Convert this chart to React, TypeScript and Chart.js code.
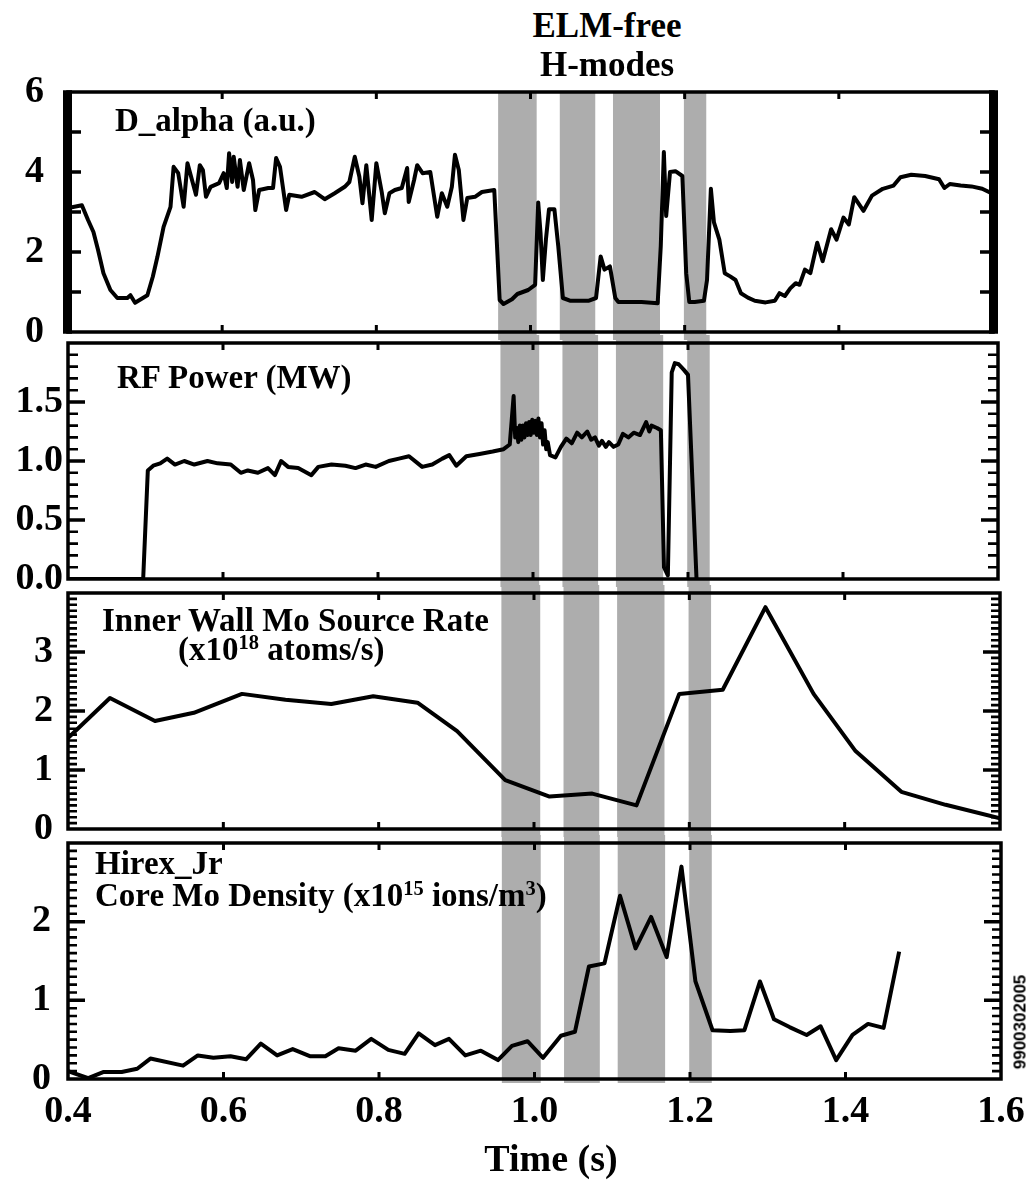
import React, { useEffect, useRef } from 'react';
import { Chart, registerables } from 'chart.js';

Chart.register(...registerables);

// ---------------- data ----------------
const xTickValues = [0.4, 0.6, 0.8, 1.0, 1.2, 1.4, 1.6];

// ELM-free H-mode windows (s)
const bandStart = [0.958, 1.038, 1.107, 1.199];
const bandEnd = [1.008, 1.084, 1.168, 1.228];

// Panel 1: D_alpha (a.u.)
const dAlphaTime = [
  0.400, 0.418, 0.426, 0.433, 0.439, 0.446, 0.455, 0.464, 0.477, 0.481, 0.487, 0.503, 0.510, 0.516, 0.524,
  0.533, 0.537, 0.543, 0.550, 0.555, 0.562, 0.566, 0.571, 0.575, 0.579, 0.585, 0.596, 0.602, 0.606, 0.609,
  0.613, 0.615, 0.620, 0.623, 0.628, 0.635, 0.640, 0.643, 0.648, 0.660, 0.666, 0.670, 0.675, 0.683, 0.687,
  0.703, 0.720, 0.733, 0.746, 0.759, 0.765, 0.772, 0.778, 0.782, 0.787, 0.794, 0.800, 0.807, 0.811, 0.817,
  0.824, 0.833, 0.840, 0.842, 0.849, 0.853, 0.860, 0.870, 0.879, 0.885, 0.892, 0.898, 0.902, 0.907, 0.913,
  0.918, 0.928, 0.937, 0.953, 0.960, 0.965, 0.976, 0.983, 0.997, 1.006, 1.010, 1.013, 1.016, 1.020, 1.024,
  1.031, 1.036, 1.042, 1.052, 1.075, 1.085, 1.091, 1.096, 1.103, 1.110, 1.114, 1.144, 1.165, 1.169, 1.173,
  1.176, 1.181, 1.188, 1.197, 1.202, 1.206, 1.213, 1.225, 1.229, 1.234, 1.238, 1.245, 1.252, 1.259, 1.266,
  1.273, 1.282, 1.291, 1.305, 1.317, 1.323, 1.330, 1.337, 1.344, 1.349, 1.356, 1.363, 1.372, 1.379, 1.390,
  1.397, 1.406, 1.413, 1.420, 1.432, 1.443, 1.457, 1.471, 1.480, 1.494, 1.512, 1.530, 1.537, 1.544, 1.558,
  1.572, 1.586, 1.600,
];
const dAlphaValue = [
  3.10, 3.17, 2.80, 2.50, 2.05, 1.47, 1.05, 0.85, 0.85, 0.92, 0.73, 0.92, 1.38, 1.88, 2.63,
  3.13, 4.13, 3.97, 3.13, 4.22, 3.72, 3.43, 4.17, 4.05, 3.38, 3.63, 3.72, 3.97, 3.60, 4.47,
  3.75, 4.38, 3.63, 4.30, 3.55, 4.22, 3.80, 3.05, 3.55, 3.60, 3.60, 4.35, 4.13, 3.05, 3.43,
  3.38, 3.50, 3.32, 3.47, 3.63, 3.75, 4.38, 3.88, 3.22, 4.17, 2.80, 4.22, 3.50, 2.97, 3.47,
  3.55, 3.60, 4.10, 3.25, 3.80, 4.17, 3.97, 4.00, 2.88, 3.47, 3.13, 3.63, 4.43, 4.05, 2.80,
  3.35, 3.38, 3.50, 3.55, 0.80, 0.70, 0.82, 0.95, 1.05, 1.18, 3.24, 2.48, 1.30, 2.31, 3.07,
  3.07, 2.15, 0.85, 0.78, 0.78, 0.85, 1.89, 1.56, 1.64, 0.85, 0.75, 0.75, 0.72, 2.15, 4.50,
  2.90, 4.00, 4.02, 3.90, 1.47, 0.75, 0.75, 0.78, 1.30, 3.58, 2.74, 2.31, 1.47, 1.39, 1.30,
  0.97, 0.86, 0.78, 0.74, 0.78, 0.97, 0.90, 1.09, 1.22, 1.18, 1.56, 1.47, 2.23, 1.77, 2.57,
  2.31, 2.86, 2.69, 3.37, 3.03, 3.41, 3.58, 3.66, 3.87, 3.93, 3.90, 3.82, 3.60, 3.70, 3.66,
  3.64, 3.58, 3.45,
];

// Panel 2: RF Power (MW)
const rfTime = [
  0.400, 0.497, 0.503, 0.510, 0.519, 0.528, 0.538, 0.550, 0.563, 0.580, 0.593, 0.610, 0.623, 0.632, 0.645,
  0.658, 0.667, 0.675, 0.684, 0.697, 0.714, 0.723, 0.740, 0.758, 0.771, 0.784, 0.797, 0.814, 0.827, 0.840,
  0.857, 0.870, 0.883, 0.892, 0.901, 0.914, 0.931, 0.948, 0.962, 0.970, 0.975, 0.977, 0.979, 0.981, 0.983,
  0.985, 0.987, 0.989, 0.991, 0.993, 0.995, 0.997, 0.999, 1.001, 1.003, 1.005, 1.007, 1.009, 1.011, 1.013,
  1.015, 1.017, 1.019, 1.022, 1.029, 1.036, 1.043, 1.050, 1.057, 1.063, 1.070, 1.075, 1.080, 1.085, 1.089,
  1.094, 1.098, 1.104, 1.110, 1.116, 1.123, 1.130, 1.138, 1.146, 1.150, 1.153, 1.160, 1.165, 1.169, 1.174,
  1.179, 1.183, 1.188, 1.195, 1.200, 1.211,
];
const rfValue = [
  0.00, 0.00, 0.92, 0.96, 0.98, 1.02, 0.97, 1.00, 0.97, 1.00, 0.98, 0.97, 0.90, 0.92, 0.90,
  0.94, 0.88, 1.00, 0.95, 0.94, 0.88, 0.95, 0.97, 0.96, 0.94, 0.97, 0.95, 1.00, 1.02, 1.04,
  0.95, 0.97, 1.02, 1.05, 0.96, 1.04, 1.06, 1.08, 1.10, 1.14, 1.55, 1.20, 1.28, 1.16, 1.30,
  1.18, 1.30, 1.20, 1.32, 1.22, 1.33, 1.22, 1.35, 1.24, 1.34, 1.22, 1.36, 1.20, 1.32, 1.14,
  1.26, 1.10, 1.16, 1.05, 1.03, 1.12, 1.19, 1.15, 1.24, 1.20, 1.25, 1.18, 1.20, 1.13, 1.17,
  1.12, 1.16, 1.12, 1.14, 1.23, 1.20, 1.24, 1.22, 1.33, 1.25, 1.30, 1.28, 1.26, 0.10, 0.03,
  1.75, 1.83, 1.82, 1.77, 1.73, 0.00,
];

// Panel 3: Inner wall Mo source rate (x10^18 atoms/s)
const moSourceTime = [
  0.400, 0.454, 0.512, 0.562, 0.624, 0.680, 0.739, 0.793, 0.850, 0.901, 0.963, 1.020, 1.075, 1.132, 1.187,
  1.243, 1.298, 1.360, 1.414, 1.473, 1.530, 1.600,
];
const moSourceValue = [
  1.54, 2.22, 1.83, 1.97, 2.29, 2.19, 2.12, 2.25, 2.14, 1.66, 0.83, 0.55, 0.60, 0.40, 2.29,
  2.36, 3.76, 2.29, 1.32, 0.63, 0.41, 0.18,
];

// Panel 4: Hirex_Jr core Mo density (x10^15 ions/m^3)
const moDensityTime = [
  0.400, 0.426, 0.446, 0.469, 0.489, 0.506, 0.548, 0.567, 0.587, 0.609, 0.629, 0.648, 0.669, 0.689, 0.711,
  0.731, 0.748, 0.770, 0.790, 0.812, 0.833, 0.851, 0.872, 0.890, 0.911, 0.931, 0.953, 0.971, 0.991, 1.011,
  1.034, 1.052, 1.070, 1.090, 1.110, 1.130, 1.150, 1.170, 1.189, 1.207, 1.229, 1.252, 1.270, 1.290, 1.308,
  1.328, 1.350, 1.368, 1.388, 1.409, 1.429, 1.449, 1.469,
];
const moDensityValue = [
  0.10, 0.01, 0.09, 0.09, 0.13, 0.26, 0.17, 0.30, 0.27, 0.29, 0.25, 0.45, 0.30, 0.38, 0.29,
  0.29, 0.39, 0.36, 0.51, 0.37, 0.32, 0.58, 0.43, 0.51, 0.30, 0.36, 0.24, 0.42, 0.48, 0.27,
  0.55, 0.60, 1.43, 1.47, 2.33, 1.66, 2.06, 1.55, 2.70, 1.24, 0.62, 0.61, 0.62, 1.24, 0.76,
  0.66, 0.56, 0.67, 0.24, 0.56, 0.70, 0.65, 1.62,
];

// y-axis tick labels per panel
const dAlphaYTicks = [0, 2, 4, 6];
const rfYTicks = [0, 0.5, 1.0, 1.5];
const moSourceYTicks = [0, 1, 2, 3];
const moDensityYTicks = [0, 1, 2];

// ---------------- styling / layout ----------------
const SERIF = '"Liberation Serif", "Times New Roman", serif';
const SANS = '"Liberation Sans", Arial, sans-serif';
const BAND_FILL = '#adadad';
const W = 1029;
const H = 1183;
const PLOT_LEFT = 68;

type PanelCfg = {
  time: number[];
  value: number[];
  yMax: number;
  yTicks: number[];
  fmt: (v: number) => string;
  labelPad: number;
  top: number;
  bottom: number;
  right: number;
  majorStep: number;
  majorLen: number;
  minorStep: number;
  minorLen: number;
  thick: boolean;
  bandUp: number;
  bandDown: number;
  showX: boolean;
};

// one decoration plugin per panel (bands, inward ticks, frame)
function makeDecor(cfg: PanelCfg): any {
  return {
    id: 'decor',
    beforeDatasetsDraw(chart: any) {
      const { ctx, chartArea: a } = chart;
      const x = chart.scales.x;
      ctx.save();
      ctx.fillStyle = BAND_FILL;
      for (let i = 0; i < bandStart.length; i++) {
        const x0 = x.getPixelForValue(bandStart[i]);
        const x1 = x.getPixelForValue(bandEnd[i]);
        const y0 = a.top - cfg.bandUp;
        const y1 = a.bottom + cfg.bandDown;
        ctx.fillRect(x0, y0, x1 - x0, y1 - y0);
      }
      ctx.restore();
    },
    afterDatasetsDraw(chart: any) {
      const { ctx, chartArea: a } = chart;
      const x = chart.scales.x;
      const y = chart.scales.y;
      ctx.save();
      ctx.strokeStyle = '#000';
      ctx.fillStyle = '#000';
      ctx.lineCap = 'butt';
      const yMin = 0;
      const yMax = cfg.yMax;
      // minor y ticks (inward, both sides)
      if (cfg.minorStep > 0) {
        ctx.lineWidth = 2.6;
        ctx.beginPath();
        const n = Math.round((yMax - yMin) / cfg.minorStep);
        const ratio = Math.round(cfg.majorStep / cfg.minorStep);
        for (let i = 1; i < n; i++) {
          if (i % ratio === 0) continue;
          const py = y.getPixelForValue(yMin + i * cfg.minorStep);
          ctx.moveTo(a.left, py);
          ctx.lineTo(a.left + cfg.minorLen, py);
          ctx.moveTo(a.right, py);
          ctx.lineTo(a.right - cfg.minorLen, py);
        }
        ctx.stroke();
      }
      // major y ticks
      ctx.lineWidth = 3.5;
      ctx.beginPath();
      const nm = Math.round((yMax - yMin) / cfg.majorStep);
      for (let i = 1; i < nm; i++) {
        const py = y.getPixelForValue(yMin + i * cfg.majorStep);
        ctx.moveTo(a.left, py);
        ctx.lineTo(a.left + cfg.majorLen, py);
        ctx.moveTo(a.right, py);
        ctx.lineTo(a.right - cfg.majorLen, py);
      }
      ctx.stroke();
      // x ticks top & bottom (inward)
      ctx.lineWidth = 3;
      ctx.beginPath();
      for (const v of xTickValues) {
        if (v <= 0.4 || v >= 1.6) continue;
        const px = x.getPixelForValue(v);
        ctx.moveTo(px, a.top);
        ctx.lineTo(px, a.top + 7);
        ctx.moveTo(px, a.bottom);
        ctx.lineTo(px, a.bottom - 7);
      }
      ctx.stroke();
      // frame
      ctx.lineWidth = 3.5;
      ctx.strokeRect(a.left, a.top, a.right - a.left, a.bottom - a.top);
      if (cfg.thick) {
        ctx.fillRect(a.left - 5, a.top - 1.75, 9, a.bottom - a.top + 3.5);
        ctx.fillRect(a.right - 4, a.top - 1.75, 9, a.bottom - a.top + 3.5);
      }
      ctx.restore();
    },
  };
}

function Panel({ cfg }: { cfg: PanelCfg }) {
  const ref = useRef<HTMLCanvasElement>(null);
  const canvasTop = Math.max(0, cfg.top - 30);
  const canvasBottom = cfg.showX ? H : cfg.bottom + 26;
  const canvasH = canvasBottom - canvasTop;
  const padTop = cfg.top - canvasTop;
  const padBottom = cfg.showX ? 0 : canvasBottom - cfg.bottom;
  const xAxisH = H - cfg.bottom;

  useEffect(() => {
    if (!ref.current) return;
    const pts = cfg.time.map((t, i) => ({ x: t, y: cfg.value[i] }));
    const tickFont = { family: SERIF, size: 38, weight: 'bold' as const, lineHeight: 1.2 };
    const chart = new Chart(ref.current, {
      type: 'line',
      data: {
        datasets: [
          {
            data: pts,
            borderColor: '#000',
            borderWidth: 4,
            borderJoinStyle: 'round',
            pointRadius: 0,
            tension: 0,
            fill: false,
          },
        ],
      },
      options: {
        animation: false,
        responsive: false,
        maintainAspectRatio: false,
        layout: { autoPadding: false, padding: { top: padTop, bottom: padBottom, left: 0, right: W - cfg.right } },
        plugins: {
          legend: { display: false },
          tooltip: { enabled: false },
        },
        scales: {
          x: {
            type: 'linear',
            min: 0.4,
            max: 1.6,
            display: cfg.showX,
            afterBuildTicks: (s: any) => {
              s.ticks = xTickValues.map((v) => ({ value: v }));
            },
            afterFit: (s: any) => {
              if (cfg.showX) s.height = xAxisH;
              s.paddingLeft = 0;
              s.paddingRight = 0;
              s.paddingTop = 0;
              s.paddingBottom = 0;
            },
            ticks: {
              callback: (v: any) => Number(v).toFixed(1),
              font: tickFont,
              color: '#000',
              padding: 10,
              maxRotation: 0,
              autoSkip: false,
            },
            grid: { display: false, drawTicks: false },
            border: { display: false },
          },
          y: {
            type: 'linear',
            min: 0,
            max: cfg.yMax,
            afterBuildTicks: (s: any) => {
              s.ticks = cfg.yTicks.map((v) => ({ value: v }));
            },
            afterFit: (s: any) => {
              s.width = PLOT_LEFT;
              s.paddingLeft = 0;
              s.paddingRight = 0;
              s.paddingTop = 0;
              s.paddingBottom = 0;
            },
            ticks: {
              callback: (v: any) => cfg.fmt(Number(v)),
              font: tickFont,
              color: '#000',
              padding: cfg.labelPad,
              autoSkip: false,
            },
            grid: { display: false, drawTicks: false },
            border: { display: false },
          },
        },
      },
      plugins: [makeDecor(cfg)],
    } as any);
    return () => chart.destroy();
  }, []);

  return (
    <canvas
      ref={ref}
      width={W}
      height={canvasH}
      style={{ position: 'absolute', left: 0, top: canvasTop, width: W, height: canvasH }}
    />
  );
}

const panels: PanelCfg[] = [
  {
    time: dAlphaTime, value: dAlphaValue, yMax: 6, yTicks: dAlphaYTicks, fmt: (v) => String(v),
    labelPad: 24, top: 92, bottom: 332, right: 993, majorStep: 1, majorLen: 13, minorStep: 0, minorLen: 0,
    thick: true, bandUp: 0, bandDown: 8, showX: false,
  },
  {
    time: rfTime, value: rfValue, yMax: 2, yTicks: rfYTicks, fmt: (v) => v.toFixed(1),
    labelPad: 5, top: 343, bottom: 579, right: 998, majorStep: 0.5, majorLen: 17, minorStep: 0.1, minorLen: 10,
    thick: false, bandUp: 8, bandDown: 8, showX: false,
  },
  {
    time: moSourceTime, value: moSourceValue, yMax: 4, yTicks: moSourceYTicks, fmt: (v) => String(v),
    labelPad: 15, top: 593, bottom: 829, right: 1000, majorStep: 1, majorLen: 17, minorStep: 0.1, minorLen: 9,
    thick: false, bandUp: 8, bandDown: 8, showX: false,
  },
  {
    time: moDensityTime, value: moDensityValue, yMax: 3, yTicks: moDensityYTicks, fmt: (v) => String(v),
    labelPad: 17, top: 843, bottom: 1079, right: 1001, majorStep: 1, majorLen: 17, minorStep: 0.1, minorLen: 9,
    thick: false, bandUp: 8, bandDown: 4, showX: true,
  },
];

function Txt({
  x, base, size, center, family, children,
}: { x: number; base: number; size: number; center?: boolean; family?: string; children: React.ReactNode }) {
  const style: React.CSSProperties = {
    position: 'absolute',
    left: x,
    top: base - 0.837 * size,
    fontFamily: family || SERIF,
    fontWeight: 'bold',
    fontSize: size,
    lineHeight: 1,
    whiteSpace: 'nowrap',
    color: '#000',
    transform: center ? 'translateX(-50%)' : undefined,
  };
  return <div style={style}>{children}</div>;
}

const Sup = ({ children }: { children: React.ReactNode }) => (
  <span style={{ fontSize: '0.62em', position: 'relative', top: '-0.55em', lineHeight: 0 }}>{children}</span>
);

export default function App() {
  return (
    <div style={{ position: 'absolute', left: 0, top: 0, width: W, height: H, background: '#fff', overflow: 'hidden' }}>
      {panels.map((p, i) => (
        <Panel key={i} cfg={p} />
      ))}
      <Txt x={607} base={37} size={35} center>ELM-free</Txt>
      <Txt x={607} base={76} size={35} center>H-modes</Txt>
      <Txt x={115} base={132} size={33}>D_alpha (a.u.)</Txt>
      <Txt x={117} base={389} size={33}>RF Power (MW)</Txt>
      <Txt x={102} base={632} size={33}>Inner Wall Mo Source Rate</Txt>
      <Txt x={178} base={661} size={33}>
        (x10<Sup>18</Sup> atoms/s)
      </Txt>
      <Txt x={95} base={875} size={33}>Hirex_Jr</Txt>
      <Txt x={95} base={907} size={33}>
        Core Mo Density (x10<Sup>15</Sup> ions/m<Sup>3</Sup>)
      </Txt>
      <Txt x={551} base={1171} size={38} center>Time (s)</Txt>
      <div
        style={{
          position: 'absolute',
          left: 1020,
          top: 1022,
          transform: 'translate(-50%, -50%) rotate(-90deg)',
          fontFamily: SANS,
          fontWeight: 'bold',
          fontSize: 17,
          lineHeight: 1,
          whiteSpace: 'nowrap',
          color: '#000',
        }}
      >
        9900302005
      </div>
    </div>
  );
}
